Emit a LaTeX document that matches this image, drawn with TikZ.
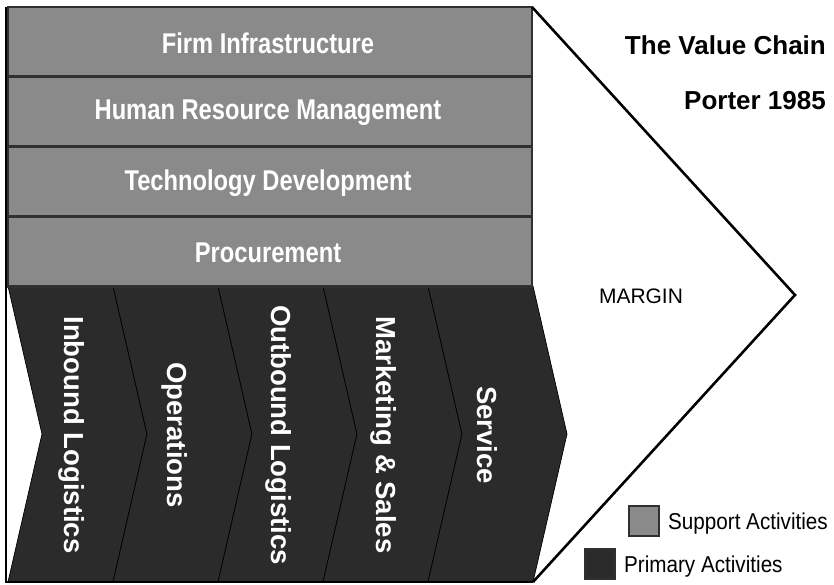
\documentclass[tikz,border=0pt]{standalone}
\usepackage{fontspec}
\setmainfont{Liberation Sans}
\newfontfamily\narrowsans[FakeStretch=0.9]{Liberation Sans}
\newfontfamily\tallsans[FakeStretch=0.83]{Liberation Sans}

\definecolor{supportgray}{HTML}{8A8A8A}
\definecolor{primarydark}{HTML}{2B2B2B}
\definecolor{edgegray}{HTML}{303030}

\tikzset{
  supportrow/.style={fill=supportgray,draw=edgegray,line width=2pt},
  primaryrow/.style={fill=primarydark,draw=black,line width=0.6pt},
  supportlabel/.style={text=white,font=\tallsans\bfseries\fontsize{24.4}{28}\selectfont},
  primarylabel/.style={text=white,rotate=-90,font=\bfseries\fontsize{23.5}{28}\selectfont},
  legendkey/.style={draw=edgegray,line width=1pt,minimum size=0.9cm,inner sep=0pt},
  legendlabel/.style={anchor=west,font=\narrowsans\fontsize{19.6}{23}\selectfont},
  heading/.style={anchor=east,font=\bfseries\fontsize{22.2}{26}\selectfont}
}

\begin{document}
\begin{tikzpicture}[x=0.03cm,y=-0.03cm]
        \useasboundingbox (0,0) rectangle (834,585) ;
        %\draw[very thin,gray,step=50] (0,0) grid (834,585) ;
        % primary activities
        \foreach \x/\name/\txt/\tx in {8/inbound/Inbound Logistics/72,
            113/operations/Operations/175, 218/outbound/Outbound Logistics/279,
            323/marketing/Marketing \& Sales/384, 428/service/Service/487}
        {
          \draw[primaryrow] (\x,286) -- ++(105,0) -- ++(34,148) -- ++(-34,148)
            -- ++(-105,0) -- ++(34,-148) -- cycle ;
          \node[primarylabel] (\name) at (\tx,435) {\txt} ;
        }
        % support activities
        \foreach \t/\name/\txt in {7/firm/Firm Infrastructure,
            77/hrm/Human Resource Management, 147/tech/Technology Development,
            217/procurement/Procurement}
        {
          \draw[supportrow] (8,\t) rectangle (532,\t+69.5) ;
          \node[supportlabel] (\name) at (268,\t+36) {\txt} ;
        }
        % margin
        \draw[line width=2.2pt,line join=miter] (532,7) -- (795,295) -- (533,582) ;
        \draw[line width=1.5pt] (6,7) -- (6,582) -- (533,582) ;
        \node[font=\fontsize{17.9}{21}\selectfont] (margin) at (641,296) {MARGIN} ;
        \node[heading] (chain) at (830,45) {The Value Chain} ;
        \node[heading] (porter) at (830,101) {Porter 1985} ;
        % legend
        \node[legendkey,fill=supportgray] (supportkey) at (644,521) {} ;
        \node[legendlabel] (supporttext) at (664,524) {Support Activities} ;
        \node[legendkey,fill=primarydark] (primarykey) at (600,564) {} ;
        \node[legendlabel] (primarytext) at (620,567) {Primary Activities} ;
      \end{tikzpicture}
\end{document}
